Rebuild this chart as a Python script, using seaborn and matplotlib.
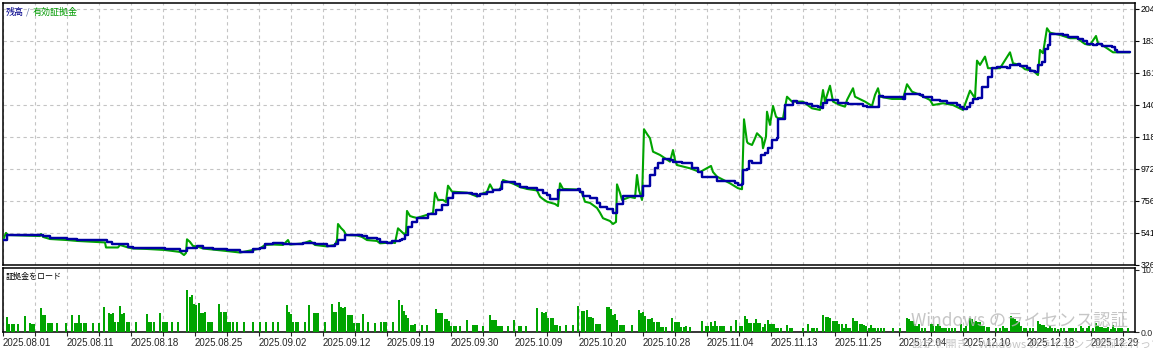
import numpy as np
import pandas as pd
import matplotlib
matplotlib.use("Agg")
import matplotlib.pyplot as plt
import seaborn as sns

# ---------------- data ----------------
balance_index = [3, 7, 43, 50, 67, 77, 107, 112, 128, 133, 147, 165, 180, 187, 197, 203, 213, 227, 240, 253,
                 260, 265, 273, 283, 293, 303, 315, 327, 335, 338, 345, 357, 362, 367, 377, 380, 387, 392, 400, 402,
                 405, 408, 412, 417, 428, 436, 442, 448, 453, 467, 472, 477, 480, 487, 493, 500, 502, 510, 515, 520,
                 527, 537, 543, 547, 550, 555, 558, 578, 580, 583, 590, 597, 600, 607, 613, 617, 623, 642, 643, 650,
                 655, 658, 663, 670, 673, 682, 692, 698, 702, 713, 717, 733, 735, 738, 742, 743, 747, 749, 752, 758,
                 761, 765, 768, 772, 777, 778, 785, 793, 797, 807, 812, 818, 822, 823, 827, 835, 838, 848, 863, 867,
                 877, 879, 883, 897, 903, 905, 920, 923, 932, 940, 947, 957, 960, 963, 967, 970, 973, 978, 982, 985,
                 988, 992, 997, 1007, 1010, 1018, 1020, 1027, 1030, 1035, 1038, 1042, 1045, 1048, 1050, 1063, 1068,
                 1073, 1078, 1083, 1087, 1093, 1097, 1102, 1112, 1115, 1117, 1130]
balance_value = [494, 528, 521, 506, 499, 494, 483, 465, 449, 443, 438, 432, 420, 443, 454, 443, 434, 427, 416, 434,
                 443, 465, 472, 465, 467, 476, 465, 456, 465, 494, 526, 530, 521, 506, 499, 479, 472, 488, 494, 499,
                 528, 584, 618, 645, 669, 696, 730, 775, 813, 813, 804, 791, 804, 820, 831, 838, 883, 883, 871, 853,
                 843, 831, 809, 797, 768, 768, 831, 838, 820, 791, 775, 742, 719, 701, 678, 735, 793, 793, 860, 932,
                 977, 1011, 1040, 1033, 1022, 1011, 977, 954, 921, 921, 894, 894, 880, 866, 871, 966, 970, 1026, 1015, 1015,
                 1067, 1082, 1112, 1168, 1179, 1307, 1403, 1430, 1415, 1408, 1399, 1388, 1385, 1419, 1437, 1437, 1419, 1410, 1397, 1388,
                 1388, 1464, 1455, 1455, 1444, 1478, 1471, 1455, 1437, 1432, 1419, 1403, 1392, 1375, 1388, 1419, 1444, 1453, 1527, 1527,
                 1590, 1651, 1661, 1655, 1673, 1680, 1668, 1651, 1634, 1628, 1673, 1691, 1779, 1808, 1880, 1875, 1863,
                 1859, 1848, 1836, 1814, 1808, 1814, 1801, 1796, 1774, 1762, 1762]

equity_index = [3, 6, 8, 40, 41, 43, 50, 67, 77, 105, 106, 118, 120, 128, 133, 147, 165, 180, 184, 186,
                187, 190, 193, 197, 203, 213, 227, 240, 253, 260, 265, 273, 283, 288, 290, 303, 310, 315, 327, 335,
                337, 338, 341, 344, 346, 357, 362, 367, 377, 380, 392, 395, 398, 402, 404, 406, 407, 410, 413, 417,
                428, 433, 435, 438, 443, 446, 448, 452, 467, 472, 477, 480, 487, 490, 493, 500, 503, 510, 515, 520,
                527, 537, 540, 543, 547, 555, 558, 560, 563, 578, 582, 585, 590, 597, 600, 603, 610, 613, 616, 617,
                620, 622, 630, 635, 637, 639, 642, 644, 647, 650, 653, 660, 670, 673, 675, 677, 690, 700, 711, 713,
                717, 730, 738, 742, 744, 747, 748, 752, 755, 757, 762, 763, 766, 767, 770, 773, 776, 778, 783, 787,
                792, 803, 812, 820, 823, 825, 830, 833, 840, 845, 847, 853, 855, 865, 872, 875, 878, 880, 892, 903,
                907, 912, 920, 930, 933, 943, 953, 963, 970, 975, 977, 980, 985, 988, 1000, 1010, 1013, 1020, 1025, 1033,
                1038, 1040, 1043, 1047, 1050, 1060, 1070, 1077, 1085, 1090, 1096, 1098, 1102, 1113, 1130]
equity_value = [494, 542, 528, 521, 535, 515, 501, 494, 488, 478, 444, 444, 461, 444, 437, 434, 427, 414, 393, 407,
                499, 481, 454, 451, 437, 430, 420, 410, 427, 437, 461, 464, 461, 494, 464, 471, 488, 461, 451, 461,
                494, 602, 575, 555, 528, 525, 515, 494, 488, 472, 478, 474, 573, 548, 535, 542, 690, 656, 649, 643,
                666, 676, 813, 764, 764, 750, 860, 820, 813, 801, 787, 801, 818, 869, 831, 834, 898, 882, 868, 851,
                838, 828, 786, 770, 752, 737, 723, 876, 838, 834, 811, 752, 744, 710, 678, 641, 622, 602, 616, 869,
                811, 764, 784, 777, 932, 831, 764, 1240, 1208, 1179, 1089, 1067, 1022, 1100, 1033, 999, 977, 952, 993, 952,
                921, 876, 843, 836, 1307, 1156, 1146, 1134, 1179, 1213, 1179, 1112, 1190, 1358, 1269, 1397, 1325, 1314, 1314, 1459,
                1426, 1426, 1381, 1370, 1504, 1426, 1533, 1426, 1403, 1392, 1437, 1516, 1459, 1426, 1397, 1471, 1516, 1459, 1444, 1444,
                1543, 1493, 1471, 1437, 1403, 1415, 1403, 1370, 1500, 1449, 1702, 1673, 1729, 1651, 1651, 1758, 1684, 1673, 1644, 1634,
                1605, 1774, 1752, 1920, 1890, 1875, 1853, 1853, 1814, 1808, 1868, 1819, 1808, 1758, 1758]

margin_bar_index = [7, 9, 12, 14, 18, 25, 30, 32, 34, 41, 43, 45, 48, 50, 52, 57, 66, 72, 75, 77, 79, 81, 84, 86, 93,
                    99, 104, 109, 111, 113, 115, 118, 120, 122, 124, 127, 129, 136, 147, 149, 151, 154, 160, 163, 165,
                    167, 172, 178, 187, 190, 192, 194, 196, 199, 201, 203, 205, 208, 210, 212, 219, 221, 224, 226, 228,
                    230, 233, 237, 244, 253, 260, 266, 273, 278, 287, 289, 291, 293, 296, 298, 305, 309, 314, 316, 318,
                    325, 332, 334, 336, 339, 341, 343, 345, 348, 350, 352, 354, 357, 359, 363, 368, 375, 381, 384, 386,
                    393, 399, 402, 404, 406, 408, 411, 413, 415, 422, 427, 436, 438, 440, 442, 445, 447, 449, 451, 454,
                    456, 460, 467, 473, 475, 477, 483, 490, 492, 494, 496, 498, 500, 502, 508, 514, 519, 521, 526, 537,
                    542, 544, 546, 548, 551, 553, 555, 557, 560, 566, 573, 578, 582, 584, 587, 589, 591, 593, 596, 598,
                    600, 607, 609, 611, 613, 615, 617, 620, 622, 624, 632, 639, 641, 643, 645, 648, 650, 652, 654, 657,
                    659, 661, 663, 666, 672, 675, 677, 679, 681, 684, 686, 690, 702, 706, 708, 711, 713, 715, 717, 720,
                    722, 724, 731, 736, 740, 742, 745, 747, 749, 751, 754, 756, 758, 760, 763, 765, 768, 770, 772, 774,
                    776, 778, 781, 787, 790, 792, 803, 808, 812, 814, 817, 823, 826, 828, 830, 833, 835, 837, 839, 842,
                    844, 846, 848, 850, 853, 855, 857, 860, 862, 864, 866, 869, 871, 873, 875, 878, 881, 884, 893, 900,
                    907, 909, 911, 913, 915, 917, 919, 922, 925, 931, 933, 936, 938, 940, 942, 944, 946, 949, 952, 955,
                    961, 964, 966, 970, 972, 974, 976, 978, 980, 982, 984, 987, 989, 996, 1000, 1003, 1005, 1007, 1011,
                    1013, 1015, 1017, 1019, 1021, 1024, 1026, 1030, 1033, 1038, 1040, 1042, 1044, 1046, 1048, 1050, 1052,
                    1055, 1058, 1061, 1064, 1069, 1071, 1073, 1076, 1081, 1083, 1087, 1089, 1093, 1096, 1098, 1100, 1102,
                    1104, 1106, 1108, 1111, 1113, 1115, 1118, 1120, 1122, 1128]
margin_load = [2.37, 1.24, 1.24, 1.24, 1.24, 2.53, 1.4, 1.3, 1.3, 3.82, 2.69, 2.69, 1.4, 1.4, 1.4, 1.4, 1.4, 2.69, 1.4, 1.4, 2.69, 1.4, 1.4, 1.4, 1.4,
               1.4, 3.98, 3.01, 2.9, 3.01, 1.56, 1.56, 4.14, 2.85, 3.01, 1.56, 1.56, 1.56, 2.85, 1.56, 1.56, 1.56, 3.01, 1.56, 1.56,
               1.56, 1.56, 1.56, 6.72, 5.59, 5.91, 4.46, 4.3, 4.62, 3.01, 3.01, 3.17, 1.56, 1.56, 1.56, 4.46, 3.17, 3.17, 3.17, 1.56,
               1.56, 1.56, 1.56, 1.56, 1.56, 1.56, 1.56, 1.56, 1.56, 4.3, 3.17, 2.85, 1.56, 1.56, 1.56, 1.56, 4.3, 3.01, 3.01, 3.01,
               1.56, 4.46, 3.17, 3.17, 4.78, 3.98, 3.82, 3.98, 2.69, 2.69, 2.69, 1.4, 1.4, 1.4, 2.85, 1.56, 1.4, 1.56, 1.56, 1.56,
               1.56, 5.11, 4.3, 3.33, 2.69, 2.2, 1.08, 1.08, 1.24, 1.08, 1.08, 3.66, 3.01, 3.01, 3.01, 2.04, 2.04, 1.72, 0.91, 0.91,
               0.91, 0.91, 1.88, 1.08, 1.08, 1.08, 0.91, 2.69, 1.88, 1.88, 1.88, 0.91, 0.91, 0.91, 0.91, 1.88, 0.91, 0.91, 0.91, 3.82,
               3.17, 3.01, 3.17, 2.2, 2.2, 2.2, 1.08, 1.08, 0.91, 1.08, 1.08, 4.14, 3.33, 3.33, 3.49, 2.37, 2.37, 2.2, 1.24, 1.24,
               1.24, 3.98, 3.98, 3.66, 2.69, 2.85, 1.88, 1.08, 1.08, 1.08, 1.08, 3.49, 3.01, 3.17, 2.53, 2.04, 2.04, 2.2, 1.56, 1.56,
               1.56, 0.75, 0.75, 0.75, 2.2, 1.56, 1.56, 1.56, 0.75, 0.75, 0.91, 0.75, 1.72, 0.91, 0.91, 1.56, 0.91, 1.72, 0.91, 0.91,
               0.91, 0.91, 0.91, 1.88, 0.91, 0.91, 2.53, 2.04, 1.4, 1.4, 1.4, 2.04, 1.4, 1.4, 0.75, 1.24, 1.88, 1.24, 1.24, 1.24,
               0.59, 0.59, 0.59, 1.08, 0.59, 0.59, 0.59, 1.24, 0.59, 0.59, 0.59, 2.69, 2.37, 2.37, 2.2, 1.72, 1.72, 1.72, 1.24, 1.24,
               0.59, 1.24, 0.59, 0.59, 2.2, 1.72, 1.72, 1.24, 1.24, 1.08, 0.91, 0.59, 1.08, 0.59, 0.59, 0.59, 0.59, 0.59, 0.59, 0.59,
               2.2, 2.04, 1.72, 1.72, 1.24, 0.91, 1.24, 0.59, 0.59, 1.24, 1.24, 0.91, 1.24, 0.91, 0.59, 0.59, 0.59, 0.59, 0.59, 0.59,
               1.24, 0.59, 0.91, 2.2, 2.04, 1.56, 1.72, 1.56, 1.56, 0.91, 0.91, 0.75, 0.75, 0.59, 0.59, 0.91, 0.59, 0.59, 2.53,
               2.2, 2.04, 1.72, 1.56, 0.91, 0.59, 0.59, 0.59, 0.59, 1.72, 1.24, 1.08, 1.08, 0.75, 0.59, 0.91, 0.59,
               0.59, 0.43, 0.59, 0.59, 0.59, 0.59, 0.59, 0.59, 0.91, 0.59, 0.59, 0.91, 0.59, 1.4, 0.91, 0.75, 0.75,
               0.59, 0.59, 0.75, 0.43, 1.08, 0.59, 0.59, 0.59, 0.59, 0.59]

date_tick_index = [3, 67, 131, 195, 259, 323, 387, 451, 515, 579, 643, 707, 771, 835, 899, 963, 1027, 1091]
date_tick_labels = ["2025.08.01", "2025.08.11", "2025.08.18", "2025.08.25", "2025.09.02", "2025.09.12",
                    "2025.09.19", "2025.09.30", "2025.10.09", "2025.10.20", "2025.10.28", "2025.11.04",
                    "2025.11.13", "2025.11.25", "2025.12.04", "2025.12.10", "2025.12.18", "2025.12.29"]
value_ticks = [326, 541.6, 757.1, 972.7, 1188.2, 1403.8, 1619.3, 1834.9, 2050.4]
value_tick_labels = ["326", "541", "756", "972", "118", "140", "161", "183", "204"]
load_ticks = [0, 10]
load_tick_labels = ["0.0", "10."]

# ---------------- style ----------------
sns.set_style("white")
plt.rcParams["font.family"] = ["Liberation Sans", "Noto Sans CJK JP", "DejaVu Sans"]
CJK = ["Noto Sans CJK JP", "DejaVu Sans"]

W, H = 1153, 348
fig = plt.figure(figsize=(W / 100, H / 100), dpi=100)
fig.patch.set_facecolor("white")

def frac(x0, y_top, x1, y_bot):
    return [x0 / W, 1 - y_bot / H, (x1 - x0) / W, (y_bot - y_top) / H]

ax = fig.add_axes(frac(3, 3, 1135, 265))
ax2 = fig.add_axes(frac(3, 268, 1135, 332))

BLUE = "#0000a4"
GREEN = "#00a400"
GRID = "#c4c4c4"

eq = pd.DataFrame({"i": equity_index, "v": equity_value})
bal = pd.DataFrame({"i": balance_index, "v": balance_value})
sns.lineplot(data=eq, x="i", y="v", ax=ax, color=GREEN, linewidth=1.5,
             estimator=None, sort=False, zorder=3)
sns.lineplot(data=bal, x="i", y="v", ax=ax, color=BLUE, linewidth=1.75,
             estimator=None, sort=False, drawstyle="steps-post", zorder=4)

ax2.bar(margin_bar_index, margin_load, width=1.8, color=GREEN, linewidth=0, zorder=3)

grid_x = np.arange(3, 1135, 32)
for a in (ax, ax2):
    a.set_xlim(3, 1135)
    a.set_xticks(grid_x)
    a.set_axisbelow(True)
    a.grid(True, axis="x", color=GRID, linestyle=(0, (3, 3)), linewidth=0.8)
    for s in a.spines.values():
        s.set_visible(True)
        s.set_color("black")
        s.set_linewidth(1.1)
    a.set_xlabel("")
    a.set_ylabel("")
    a.yaxis.tick_right()

ax.grid(True, axis="y", color=GRID, linestyle=(0, (3, 3)), linewidth=0.8)
ax.set_ylim(326, 2090)
ax.set_yticks(value_ticks)
ax.set_yticklabels(value_tick_labels)
ax.tick_params(axis="y", which="both", direction="out", length=3, width=0.8, pad=1.2,
               labelsize=6.3, right=True, left=False, colors="black")
ax.tick_params(axis="x", length=0, labelbottom=False)

ax2.set_ylim(0, 10.3)
ax2.set_yticks(load_ticks)
ax2.set_yticklabels(load_tick_labels)
ax2.tick_params(axis="y", direction="out", length=3, width=0.8, pad=1.2, labelsize=6.3,
                right=True, left=False)
xlabels = []
for gx in grid_x:
    xlabels.append(date_tick_labels[date_tick_index.index(gx)] if gx in date_tick_index else "")
ax2.set_xticklabels(xlabels, ha="left")
ax2.tick_params(axis="x", direction="out", length=3, width=0.8, pad=1.5, labelsize=7,
                bottom=True)

# panel titles
fig.text(6 / W, 1 - 12 / H, "残高", color="#00008b", fontsize=6.5, va="center", ha="left", family=CJK)
fig.text(26 / W, 1 - 12 / H, "/", color="#5a6aa0", fontsize=6.5, va="center", ha="left", family=CJK)
fig.text(33 / W, 1 - 12 / H, "有効証拠金", color="#009a00", fontsize=6.5, va="center", ha="left", family=CJK)
fig.text(6 / W, 1 - 276 / H, "証拠金をロード", color="black", fontsize=5.8, va="center", ha="left", family=CJK)

# OS watermark visible in the screenshot
fig.text(911 / W, 1 - 321 / H, "Windows のライセンス認証", color="#b8b8b8", alpha=0.8,
         fontsize=12.5, va="center", ha="left", family=CJK, zorder=10)
fig.text(912 / W, 1 - 339 / H, "設定を開き、Windows のライセンス認証を行ってください。", color="#b8b8b8",
         alpha=0.8, fontsize=8, va="top", ha="left", family=CJK, zorder=10)

fig.savefig("out.png", dpi=100, facecolor="white")
